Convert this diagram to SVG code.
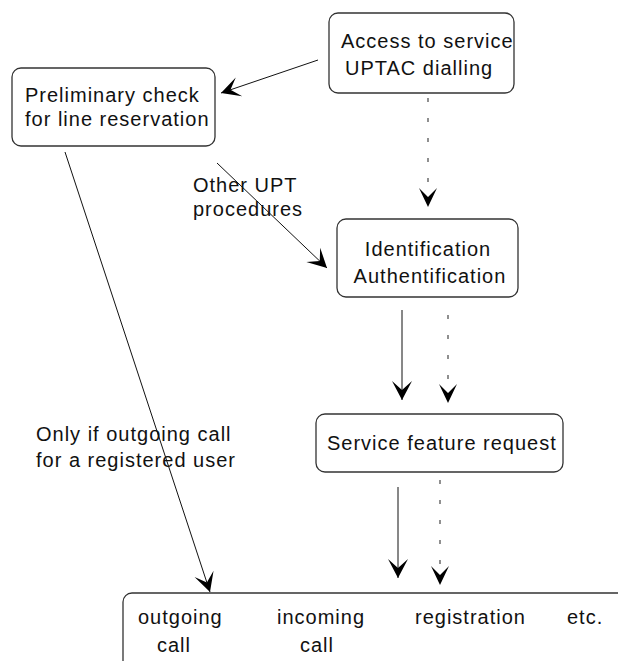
<svg xmlns="http://www.w3.org/2000/svg" width="618" height="661" viewBox="0 0 618 661">
<style>
  .box { fill: #ffffff; stroke: #333333; stroke-width: 1.3; }
  .t { font-family: "Liberation Sans", Arial, sans-serif; font-size: 20px; letter-spacing: 1px; fill: #111111; }
  .solid { fill: none; stroke: #111111; stroke-width: 1; }
  .dot { fill: none; stroke: #555555; stroke-width: 1.3; stroke-dasharray: 4 16; }
</style>
<defs>
  <marker id="ah" markerUnits="userSpaceOnUse" markerWidth="22" markerHeight="22" viewBox="-20 -11 22 22" refX="0" refY="0" orient="auto">
    <path d="M0,0 L-19,-10 L-10,0 L-19,10 Z" fill="#000000"/>
  </marker>
</defs>
<rect width="618" height="661" fill="#ffffff"/>

<g id="connectors">
  <line class="solid" x1="318" y1="60" x2="221" y2="93" marker-end="url(#ah)"/>
  <line class="dot" x1="428" y1="98" x2="428" y2="188"/>
  <path d="M428,207 L419,188 L428,197 L437,188 Z" fill="#000"/>
  <line class="solid" x1="217" y1="163" x2="327" y2="268" marker-end="url(#ah)"/>
  <line class="solid" x1="402" y1="310" x2="402" y2="400" marker-end="url(#ah)"/>
  <line class="dot" x1="448" y1="315" x2="448" y2="384"/>
  <path d="M448,403 L439,384 L448,393 L457,384 Z" fill="#000"/>
  <line class="solid" x1="65" y1="152" x2="210" y2="592" marker-end="url(#ah)"/>
  <line class="solid" x1="398" y1="487" x2="398" y2="578" marker-end="url(#ah)"/>
  <line class="dot" x1="440" y1="480" x2="440" y2="566"/>
  <path d="M440,585 L431,566 L440,575 L449,566 Z" fill="#000"/>
</g>

<g id="access">
  <rect class="box" x="329" y="13" width="185" height="80" rx="9"/>
  <text class="t" x="341" y="48">Access to service</text>
  <text class="t" x="345" y="75">UPTAC dialling</text>
</g>

<g id="preliminary">
  <rect class="box" x="12" y="68" width="203" height="78" rx="9"/>
  <text class="t" x="25" y="102">Preliminary check</text>
  <text class="t" x="25" y="126">for line reservation</text>
</g>

<g id="other-label">
  <text class="t" x="193" y="192">Other UPT</text>
  <text class="t" x="193" y="216">procedures</text>
</g>

<g id="identification">
  <rect class="box" x="337" y="219" width="181" height="78" rx="9"/>
  <text class="t" x="428" y="256" text-anchor="middle">Identification</text>
  <text class="t" x="430" y="283" text-anchor="middle">Authentification</text>
</g>

<g id="only-label">
  <text class="t" x="36" y="441">Only if outgoing call</text>
  <text class="t" x="36" y="467">for a registered user</text>
</g>

<g id="service">
  <rect class="box" x="316" y="414" width="247" height="58" rx="9"/>
  <text class="t" x="327" y="450">Service feature request</text>
</g>

<g id="features">
  <rect class="box" x="123" y="593" width="560" height="120" rx="9"/>
  <text class="t" x="138" y="624">outgoing</text>
  <text class="t" x="157" y="652">call</text>
  <text class="t" x="277" y="624">incoming</text>
  <text class="t" x="300" y="652">call</text>
  <text class="t" x="415" y="624">registration</text>
  <text class="t" x="567" y="624">etc.</text>
</g>
</svg>
